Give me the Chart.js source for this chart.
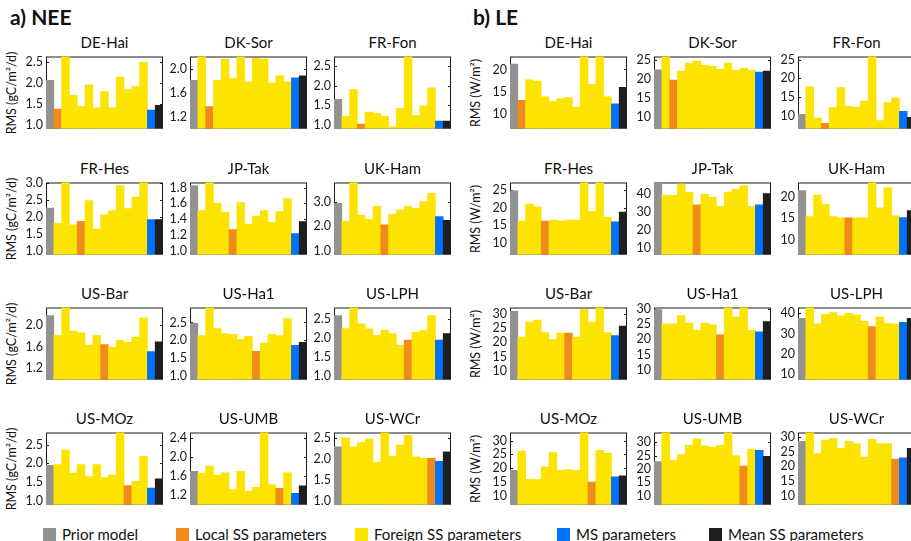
<!DOCTYPE html>
<html>
<head>
<meta charset="utf-8">
<script src="https://cdn.jsdelivr.net/npm/chart.js@4"></script>
<style>
  body { margin: 0; background: #fff; }
  #page { position: relative; width: 911px; height: 541px; overflow: hidden; font-family: Lato, "Open Sans", sans-serif; color: #111; }
  .head { position: absolute; top: 4px; font-size: 21px; font-weight: bold; }
  .title { position: absolute; width: 117px; text-align: center; font-size: 15px; line-height: 18px; }
  .ylab { position: absolute; width: 110px; text-align: center; font-size: 12.5px; line-height: 14px; transform: rotate(-90deg); white-space: nowrap; }
  .panel { position: absolute; }
  .leg { position: absolute; top: 526px; font-size: 15px; line-height: 16px; white-space: nowrap; }
  .leg span { display: inline-block; width: 13px; height: 13px; vertical-align: -1px; margin-right: 6px; }
</style>
</head>
<body>
<div id="page">
  <div class="head" style="left:10px">a) NEE</div>
  <div class="head" style="left:473px">b) LE</div>
</div>
<script>
const sites = ['DE-Hai', 'DK-Sor', 'FR-Fon', 'FR-Hes', 'JP-Tak', 'UK-Ham', 'US-Bar', 'US-Ha1', 'US-LPH', 'US-MOz', 'US-UMB', 'US-WCr'];
const groups = ['Prior model', 'Local SS parameters', 'Foreign SS parameters', 'MS parameters', 'Mean SS parameters'];

// bar order in every panel: prior, SS parameters of the 12 sites (site order), MS, mean SS
const neeDEHai = [2.06, 1.37, 2.70, 1.70, 1.44, 1.95, 1.40, 1.79, 1.40, 2.14, 1.84, 1.91, 2.49, 1.35, 1.46];
const neeDKSor = [1.805, 2.25, 1.365, 1.805, 2.16, 1.835, 2.25, 1.78, 2.175, 2.16, 1.765, 1.88, 1.78, 1.85, 1.88];
const neeFRFon = [1.65, 1.215, 1.90, 1.015, 1.32, 1.29, 1.215, 0.94, 1.42, 2.80, 1.24, 1.48, 1.945, 1.09, 1.09];
const neeFRHes = [2.27, 1.82, 3.10, 1.77, 1.88, 2.49, 1.65, 2.07, 2.19, 2.93, 2.25, 2.59, 3.10, 1.93, 1.93];
const neeJPTak = [1.826, 1.51, 1.90, 1.60, 1.49, 1.27, 1.61, 1.34, 1.44, 1.51, 1.36, 1.50, 1.66, 1.22, 1.37];
const neeUKHam = [2.93, 2.20, 3.80, 2.45, 2.28, 2.81, 2.06, 2.48, 2.66, 2.81, 2.72, 3.00, 3.33, 2.39, 2.24];
const neeUSBar = [2.18, 1.81, 2.40, 1.89, 1.86, 1.63, 1.81, 1.64, 1.59, 1.72, 1.68, 1.78, 2.14, 1.51, 1.69];
const neeUSHa1 = [2.48, 2.13, 2.95, 2.33, 2.19, 2.17, 2.03, 2.11, 1.69, 1.92, 2.17, 2.13, 2.61, 1.86, 1.94];
const neeUSLPH = [2.58, 2.24, 2.85, 2.36, 2.23, 2.06, 2.20, 2.11, 1.80, 1.94, 2.15, 2.19, 2.58, 1.94, 2.11];
const neeUSMOz = [1.95, 1.97, 2.36, 1.74, 1.97, 1.65, 1.97, 1.62, 1.69, 2.85, 1.41, 1.52, 2.19, 1.34, 1.59];
const neeUSUMB = [1.70, 1.66, 1.81, 1.62, 1.67, 1.31, 1.70, 1.28, 1.36, 2.55, 1.42, 1.34, 1.67, 1.23, 1.39];
const neeUSWCr = [2.29, 2.50, 2.29, 2.39, 2.48, 1.92, 2.65, 2.06, 2.33, 2.56, 2.05, 2.01, 2.01, 1.94, 2.17];

const leDEHai = [21.2, 13.1, 17.7, 17.4, 13.9, 12.9, 13.5, 13.7, 11.6, 23.5, 16.7, 23.5, 13.9, 12.3, 16.0];
const leDKSor = [22.3, 27.0, 19.6, 22.0, 24.1, 24.6, 23.5, 23.2, 22.4, 24.1, 22.2, 22.7, 22.2, 21.7, 22.0];
const leFRFon = [10.4, 17.7, 9.4, 8.0, 12.2, 17.5, 12.5, 12.3, 13.9, 26.0, 8.7, 13.5, 14.8, 11.2, 9.6];
const leFRHes = [24.75, 16.25, 21.0, 20.25, 16.25, 16.5, 16.25, 16.5, 16.5, 28.0, 19.0, 28.0, 17.3, 16.0, 18.75];
const leJPTak = [48.0, 39.5, 39.5, 45.8, 41.2, 34.2, 40.0, 38.3, 33.3, 41.3, 42.8, 45.0, 33.3, 34.2, 40.5];
const leUKHam = [21.35, 15.4, 20.3, 18.2, 15.4, 15.1, 15.1, 15.1, 15.1, 24.0, 17.4, 22.0, 15.6, 15.2, 16.8];
const leUSBar = [31.05, 21.9, 27.2, 27.9, 23.5, 21.05, 23.3, 23.3, 21.9, 31.7, 27.2, 33.0, 23.5, 22.4, 25.8];
const leUSHa1 = [29.8, 25.1, 25.1, 27.8, 25.4, 23.0, 25.4, 24.8, 21.5, 31.0, 27.4, 31.0, 23.0, 22.5, 25.9];
const leUSLPH = [37.5, 43.0, 34.8, 39.6, 40.4, 38.8, 40.0, 39.3, 36.0, 33.4, 38.2, 35.1, 34.8, 35.6, 37.5];
const leUSMOz = [19.2, 26.2, 15.9, 15.9, 20.5, 25.7, 19.2, 19.5, 19.2, 34.0, 14.9, 26.5, 25.5, 16.8, 17.2];
const leUSUMB = [22.8, 34.0, 23.3, 25.4, 28.9, 31.3, 28.7, 28.1, 28.9, 34.0, 25.0, 21.1, 27.4, 27.0, 24.8];
const leUSWCr = [28.6, 32.0, 24.4, 29.0, 29.6, 26.2, 28.6, 27.8, 23.2, 29.3, 27.8, 27.8, 22.5, 22.9, 26.2];

const neeValues = [neeDEHai, neeDKSor, neeFRFon, neeFRHes, neeJPTak, neeUKHam, neeUSBar, neeUSHa1, neeUSLPH, neeUSMOz, neeUSUMB, neeUSWCr];
const leValues = [leDEHai, leDKSor, leFRFon, leFRHes, leJPTak, leUKHam, leUSBar, leUSHa1, leUSLPH, leUSMOz, leUSUMB, leUSWCr];

// axis limits and tick labels per site
const neeMin = [0.907, 1.0, 0.9, 0.9, 0.955, 0.855, 0.99, 0.9, 0.907, 0.9, 0.994, 0.91];
const neeMax = [2.63, 2.205, 2.75, 3.02, 1.864, 3.77, 2.33, 2.92, 2.79, 2.83, 2.525, 2.63];
const neeTicks = [
  [1.0, 1.5, 2.0, 2.5], [1.2, 1.6, 2.0], [1.0, 1.5, 2.0, 2.5],
  [1.0, 1.5, 2.0, 2.5, 3.0], [1.0, 1.2, 1.4, 1.6, 1.8], [1.0, 2.0, 3.0],
  [1.2, 1.6, 2.0], [1.0, 1.5, 2.0, 2.5], [1.0, 1.5, 2.0, 2.5],
  [1.0, 1.5, 2.0, 2.5], [1.2, 1.6, 2.0, 2.4], [1.0, 1.5, 2.0, 2.5]
];
const leMin = [6.8, 6.9, 6.6, 6.8, 6.2, 6.75, 6.85, 6.8, 7.05, 6.75, 6.7, 6.95];
const leMax = [22.9, 25.8, 25.8, 27.1, 46.7, 23.2, 32.4, 30.5, 42.95, 33.0, 33.7, 31.6];
const leTicks = [
  [10, 15, 20], [10, 15, 20, 25], [10, 15, 20, 25],
  [10, 15, 20, 25], [10, 20, 30, 40], [10, 15, 20],
  [10, 15, 20, 25, 30], [10, 15, 20, 25, 30], [10, 20, 30, 40],
  [10, 15, 20, 25, 30], [10, 15, 20, 25, 30], [10, 15, 20, 25, 30]
];

const colors = { prior: '#929292', local: '#f08a1d', foreign: '#fde400', ms: '#0072ff', mean: '#1e1e1e' };
const legendColors = [colors.prior, colors.local, colors.foreign, colors.ms, colors.mean];

const colLeft = [46, 190, 334, 510, 654, 798];
const rowTop = [52, 178, 303, 428];
const plotW = 117, plotH = 81, axisW = 40;

// box round the plot with inward ticks, drawn under the bars
const framePlugin = {
  id: 'frame',
  beforeDatasetsDraw(chart) {
    const { ctx, chartArea: a, scales: { y } } = chart;
    ctx.save();
    ctx.strokeStyle = '#1a1a1a';
    ctx.lineWidth = 1;
    ctx.strokeRect(a.left + 0.5, a.top + 0.5, a.right - a.left - 1, a.bottom - a.top - 1);
    ctx.beginPath();
    y.ticks.forEach(t => {
      const py = Math.round(y.getPixelForValue(t.value)) + 0.5;
      ctx.moveTo(a.left, py); ctx.lineTo(a.left + 3, py);
      ctx.moveTo(a.right, py); ctx.lineTo(a.right - 3, py);
    });
    ctx.stroke();
    ctx.restore();
  }
};

const page = document.getElementById('page');

function addPanel(siteIdx, values, ymin, ymax, ticks, decimals, left, top, ylabel) {
  const title = document.createElement('div');
  title.className = 'title';
  title.style.left = left + 'px';
  title.style.top = (top - 19) + 'px';
  title.textContent = sites[siteIdx];
  page.appendChild(title);

  if (ylabel) {
    const lab = document.createElement('div');
    lab.className = 'ylab';
    lab.style.left = (left - axisW + 22 - 55 - 16) + 'px';
    lab.style.top = (top + plotH / 2 - 7) + 'px';
    lab.innerHTML = ylabel;
    page.appendChild(lab);
  }

  const canvas = document.createElement('canvas');
  canvas.className = 'panel';
  const W = axisW + plotW + 1, H = plotH + 12;
  canvas.width = W; canvas.height = H;
  canvas.style.width = W + 'px'; canvas.style.height = H + 'px';
  canvas.style.left = (left - axisW) + 'px';
  canvas.style.top = (top - 6) + 'px';
  page.appendChild(canvas);

  const barColors = values.map((v, k) => {
    if (k === 0) return colors.prior;
    if (k === values.length - 2) return colors.ms;
    if (k === values.length - 1) return colors.mean;
    return k === siteIdx + 1 ? colors.local : colors.foreign;
  });

  new Chart(canvas.getContext('2d'), {
    type: 'bar',
    data: {
      labels: values.map((v, k) => String(k)),
      datasets: [{
        data: values,
        backgroundColor: barColors,
        borderWidth: 0,
        categoryPercentage: 1.0,
        barPercentage: 1.0,
        clip: 0
      }]
    },
    options: {
      responsive: false,
      animation: false,
      layout: { padding: { left: 0, right: 1, top: 6, bottom: 6 } },
      plugins: { legend: { display: false }, tooltip: { enabled: false } },
      scales: {
        x: { display: false },
        y: {
          min: ymin,
          max: ymax,
          afterBuildTicks: axis => { axis.ticks = ticks.map(v => ({ value: v })); },
          afterFit: axis => { axis.width = axisW; },
          grid: { display: false, drawTicks: false },
          border: { display: false },
          ticks: {
            padding: 3,
            color: '#1a1a1a',
            font: { family: 'Lato', size: 12.5 },
            callback: v => Number(v).toFixed(decimals)
          }
        }
      }
    },
    plugins: [framePlugin]
  });
}

sites.forEach((s, i) => {
  const row = Math.floor(i / 3), col = i % 3;
  addPanel(i, neeValues[i], neeMin[i], neeMax[i], neeTicks[i], 1,
    colLeft[col], rowTop[row], col === 0 ? 'RMS (gC/m²/d)' : null);
  addPanel(i, leValues[i], leMin[i], leMax[i], leTicks[i], 0,
    colLeft[col + 3], rowTop[row], col === 0 ? 'RMS (W/m²)' : null);
});

const legendX = [43, 176, 355, 557, 709];
groups.forEach((g, k) => {
  const item = document.createElement('div');
  item.className = 'leg';
  item.style.left = legendX[k] + 'px';
  item.innerHTML = '<span style="background:' + legendColors[k] + '"></span>' + g;
  page.appendChild(item);
});
</script>
</body>
</html>
